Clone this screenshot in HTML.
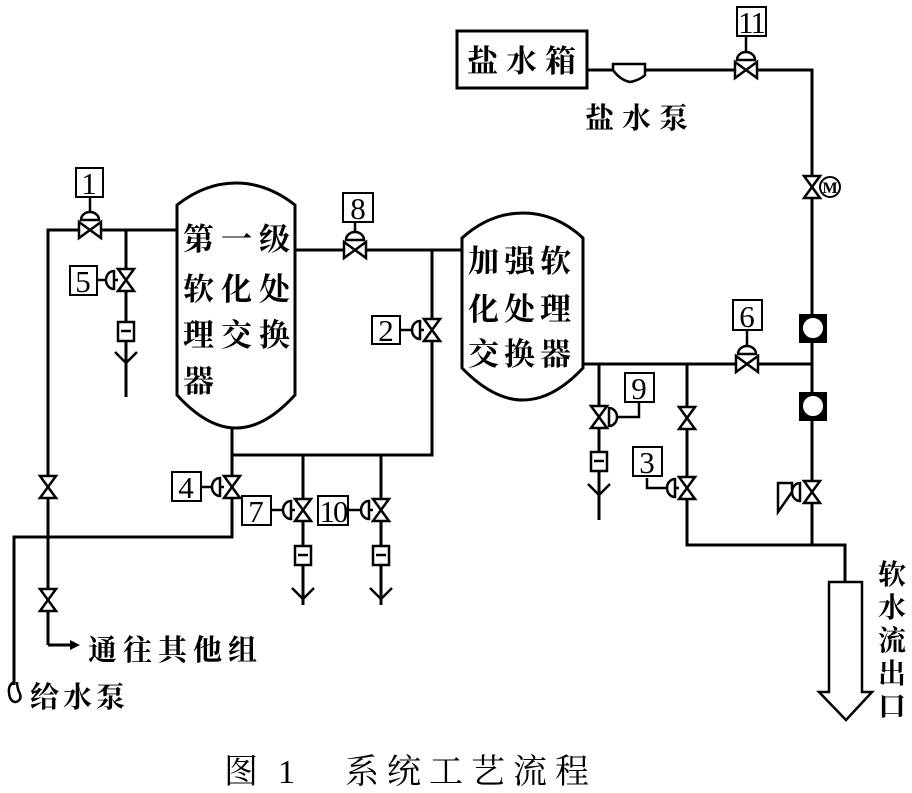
<!DOCTYPE html>
<html><head><meta charset="utf-8"><style>
html,body{margin:0;padding:0;background:#fff}
svg{display:block}
text{font-family:"Liberation Serif","Noto Serif CJK SC","Noto Sans CJK SC",serif;fill:#000}
</style></head><body>
<svg width="912" height="793" viewBox="0 0 912 793" xmlns="http://www.w3.org/2000/svg">
<g fill="none" stroke="#000" stroke-width="3">
<polyline points="48,645 48,230 177,230"/>
<line x1="126" y1="230" x2="126" y2="397"/>
<line x1="295" y1="250" x2="462" y2="250"/>
<polyline points="232,428 232,455 432,455 432,250"/>
<polyline points="232,455 232,537 14,537 14,685"/>
<line x1="303" y1="455" x2="303" y2="605"/>
<line x1="381" y1="455" x2="381" y2="605"/>
<polyline points="48,645 70,645"/>
<line x1="583" y1="364" x2="812" y2="364"/>
<line x1="599" y1="364" x2="599" y2="520"/>
<polyline points="687,364 687,545 845,545 845,582"/>
<polyline points="588,70 812,70 812,545"/>
<path d="M177,205 Q205,183 236,183 Q267,183 295,205 L295,395 Q265,428 236,428 Q207,428 177,395 Z" fill="#fff"/>
<path d="M462,238 Q490,213 523,213 Q556,213 583,238 L583,368 Q553,400 523,400 Q493,400 462,368 Z" fill="#fff"/>
<rect x="457" y="31" width="130" height="57" fill="#fff"/>
<path d="M613,64 L645,64 L645,75 Q640,80 630,82 Q620,80 613,70 Z" fill="#fff" stroke-width="2.5"/>
<path d="M14,682 Q8,685 9,693 Q10,702 16,702 Q22,700 20,694 Q17,688 17,682" stroke-width="2.5"/>
</g>
<polygon points="70,640 80,645 70,650" fill="#000"/>
<path d="M829,582 L862,582 L862,692 L872,692 L846,720 L819,692 L829,692 Z" fill="#fff" stroke="#000" stroke-width="2.5"/>

<g fill="#fff" stroke="#000" stroke-width="2.5">
<path d="M79,222 L90,230 L79,238 Z M101,222 L90,230 L101,238 Z"/>
<path d="M344,242 L355,250 L344,258 Z M366,242 L355,250 L366,258 Z"/>
<path d="M736,356 L747,364 L736,372 Z M758,356 L747,364 L758,372 Z"/>
<path d="M735,62 L746,70 L735,78 Z M757,62 L746,70 L757,78 Z"/>
<path d="M118,269 L126,280 L134,269 Z M118,291 L126,280 L134,291 Z"/>
<path d="M424,319 L432,330 L440,319 Z M424,341 L432,330 L440,341 Z"/>
<path d="M224,476 L232,487 L240,476 Z M224,498 L232,487 L240,498 Z"/>
<path d="M295,499 L303,510 L311,499 Z M295,521 L303,510 L311,521 Z"/>
<path d="M373,499 L381,510 L389,499 Z M373,521 L381,510 L389,521 Z"/>
<path d="M40,476 L48,487 L56,476 Z M40,498 L48,487 L56,498 Z"/>
<path d="M40,589 L48,600 L56,589 Z M40,611 L48,600 L56,611 Z"/>
<path d="M591,406 L599,417 L607,406 Z M591,428 L599,417 L607,428 Z"/>
<path d="M679,407 L687,418 L695,407 Z M679,429 L687,418 L695,429 Z"/>
<path d="M679,477 L687,488 L695,477 Z M679,499 L687,488 L695,499 Z"/>
<path d="M804,176 L812,187 L820,176 Z M804,198 L812,187 L820,198 Z"/>
<path d="M804,481 L812,492 L820,481 Z M804,503 L812,492 L820,503 Z"/>
</g>
<g fill="#fff" stroke="#000" stroke-width="2.5">
<path d="M81,220 A9,8 0 0 1 99,220 Z"/><line x1="90" y1="197" x2="90" y2="212"/>
<path d="M346,240 A9,8 0 0 1 364,240 Z"/><line x1="355" y1="222" x2="355" y2="232"/>
<path d="M738,354 A9,8 0 0 1 756,354 Z"/><line x1="747" y1="330" x2="747" y2="346"/>
<path d="M737,60 A9,8 0 0 1 755,60 Z"/><line x1="746" y1="36" x2="746" y2="52"/>
<path d="M114,271 A8,9 0 0 0 114,289 Z"/><line x1="97" y1="280" x2="106" y2="280"/><line x1="114" y1="280" x2="118" y2="280"/>
<path d="M420,321 A8,9 0 0 0 420,339 Z"/><line x1="400" y1="330" x2="412" y2="330"/><line x1="420" y1="330" x2="424" y2="330"/>
<path d="M220,478 A8,9 0 0 0 220,496 Z"/><line x1="201" y1="487" x2="212" y2="487"/><line x1="220" y1="487" x2="224" y2="487"/>
<path d="M291,501 A8,9 0 0 0 291,519 Z"/><line x1="271" y1="510" x2="283" y2="510"/><line x1="291" y1="510" x2="295" y2="510"/>
<path d="M369,501 A8,9 0 0 0 369,519 Z"/><line x1="348" y1="510" x2="361" y2="510"/><line x1="369" y1="510" x2="373" y2="510"/>
<path d="M675,479 A8,9 0 0 0 675,497 Z"/><polyline points="647,478 647,488 667,488" fill="none"/><line x1="675" y1="488" x2="679" y2="488"/>
<path d="M609,408 A8,9 0 0 1 609,426 Z"/><polyline points="617,417 639,417 639,400" fill="none"/>
<path d="M800,483 A8,9 0 0 0 800,501 Z"/><polygon points="778,483 792,483 792,492 778,512" fill="#fff"/>
</g>
<circle cx="830" cy="187" r="10" fill="#fff" stroke="#000" stroke-width="2"/>
<text x="830" y="193" font-size="16" font-weight="bold" text-anchor="middle">M</text>
<g stroke="#000" stroke-width="2">
<rect x="800" y="315" width="26" height="27" fill="#000"/><circle cx="813" cy="328" r="11" fill="#fff"/>
<rect x="800" y="393" width="26" height="27" fill="#000"/><circle cx="813" cy="406" r="11" fill="#fff"/>
</g>
<g fill="#fff" stroke="#000" stroke-width="2.5">
<rect x="118" y="322" width="16" height="19"/><line x1="121" y1="331" x2="131" y2="331"/>
<rect x="295" y="546" width="16" height="19"/><line x1="298" y1="555" x2="308" y2="555"/>
<rect x="373" y="546" width="16" height="19"/><line x1="376" y1="555" x2="386" y2="555"/>
<rect x="591" y="452" width="16" height="19"/><line x1="594" y1="461" x2="604" y2="461"/>
<polyline points="115,352 126,363 137,352" fill="none"/>
<polyline points="292,588 303,599 314,588" fill="none"/>
<polyline points="370,588 381,599 392,588" fill="none"/>
<polyline points="588,484 599,495 610,484" fill="none"/>
</g>
<g fill="#fff" stroke="#000" stroke-width="2">
<rect x="76" y="168" width="27" height="29"/>
<rect x="70" y="266" width="27" height="29"/>
<rect x="343" y="193" width="30" height="29"/>
<rect x="372" y="316" width="28" height="28"/>
<rect x="172" y="472" width="29" height="29"/>
<rect x="242" y="496" width="29" height="29"/>
<rect x="318" y="496" width="30" height="29"/>
<rect x="733" y="300" width="29" height="30"/>
<rect x="625" y="373" width="29" height="29"/>
<rect x="633" y="447" width="29" height="29"/>
<rect x="737" y="7" width="29" height="29"/>
</g>
<g font-size="31" text-anchor="middle">
<text x="89" y="194">1</text>
<text x="83" y="292">5</text>
<text x="358" y="219">8</text>
<text x="386" y="341">2</text>
<text x="186" y="498">4</text>
<text x="256" y="522">7</text>
<text x="333" y="522" letter-spacing="-2">10</text>
<text x="747" y="327">6</text>
<text x="639" y="399">9</text>
<text x="647" y="473">3</text>
<text x="751" y="33" letter-spacing="-2">11</text>
</g>
<g font-family="'Noto Serif CJK SC','Noto Sans CJK SC',serif" font-weight="bold" font-size="31">
<text x="183" y="250" letter-spacing="7">第一级</text>
<text x="183" y="300" letter-spacing="7">软化处</text>
<text x="183" y="346" letter-spacing="7">理交换</text>
<text x="183" y="392">器</text>
<text x="468" y="272" letter-spacing="5">加强软</text>
<text x="468" y="320" letter-spacing="5">化处理</text>
<text x="468" y="365" letter-spacing="5">交换器</text>
<text x="467" y="72" letter-spacing="8">盐水箱</text>
<text x="585" y="128" letter-spacing="8" font-size="29">盐水泵</text>
<text x="88" y="660" letter-spacing="6" font-size="29">通往其他组</text>
<text x="30" y="707" letter-spacing="4" font-size="29">给水泵</text>
<text x="878" y="584" font-size="28">软</text>
<text x="878" y="617" font-size="28">水</text>
<text x="878" y="650" font-size="28">流</text>
<text x="878" y="683" font-size="28">出</text>
<text x="878" y="716" font-size="28">口</text>
<text x="224" y="783" font-size="34" font-weight="normal">图</text>
<text x="345" y="783" font-size="34" font-weight="normal" letter-spacing="8">系统工艺流程</text>
</g>
<text x="278" y="783" font-size="34">1</text>
</svg>
</body></html>
